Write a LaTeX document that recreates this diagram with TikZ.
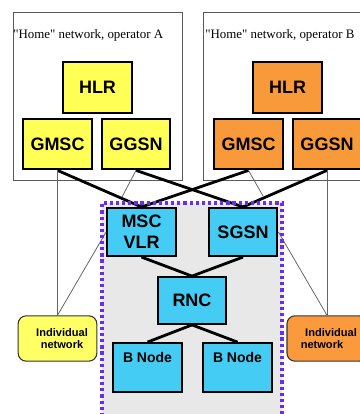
\documentclass[tikz,border=0pt]{standalone}
\usepackage{fontspec}
\setmainfont{Liberation Serif}[Ligatures=TeXOff]
\newfontfamily\arialfont{Liberation Sans}
\definecolor{nyellow}{HTML}{FFFF55}
\definecolor{norange}{HTML}{F99A3A}
\definecolor{nblue}{HTML}{44CCF4}
\definecolor{iyellow}{HTML}{FFFF66}
\definecolor{iorange}{HTML}{FA9A3C}
\definecolor{coregray}{HTML}{E8E8E8}
\definecolor{dotpurple}{HTML}{6A2CF0}
\begin{document}
\begin{tikzpicture}[x=0.75pt,y=-0.75pt,
  netbox/.style={draw=black!65,line width=0.6pt},
  elem/.style={draw=black,line width=1.6pt,minimum width=51.5pt,minimum height=38pt,inner sep=0pt,
    font=\arialfont\bfseries\fontsize{13.5}{15}\selectfont},
  yel/.style={elem,fill=nyellow},
  ora/.style={elem,fill=norange},
  blu/.style={elem,fill=nblue},
  bnode/.style={blu,minimum height=36.5pt,font=\arialfont\bfseries\fontsize{10.5}{12}\selectfont},
  indiv/.style={draw=black!80,line width=0.8pt,rounded corners=6pt,minimum width=59pt,minimum height=34pt,
    inner sep=0pt},
  indtext/.style={inner sep=0pt,align=center,font=\arialfont\bfseries\fontsize{8.3}{9}\selectfont},
  btext/.style={inner sep=0pt,font=\arialfont\bfseries\fontsize{10.5}{12}\selectfont},
  thickl/.style={line width=2.1pt,black},
  thinl/.style={line width=0.6pt,black!60},
  title/.style={anchor=west,inner sep=0pt,font=\fontsize{9.7}{11}\selectfont}]
\useasboundingbox (0,0) rectangle (360,414);
% home networks
\draw[netbox] (13,12) rectangle (182,180);
\draw[netbox] (203,12) rectangle (372,180);
\node[title] (ta) at (13,35) {"Home" network, operator A};
\node[title] (tb) at (205,35) {"Home" network, operator B};
% core network area
\fill[coregray] (102,203) rectangle (282,416);
% nodes
\node[yel] (hlra) at (97.5,87.5) {HLR};
\node[yel] (gmsca) at (57.5,144) {GMSC};
\node[yel] (ggsna) at (136,144) {GGSN};
\node[ora] (hlrb) at (287.5,87.5) {HLR};
\node[ora] (gmscb) at (248.5,144) {GMSC};
\node[ora] (ggsnb) at (327,144) {GGSN};
\node[blu,minimum height=36pt,align=center,font=\arialfont\bfseries\fontsize{13.5}{16}\selectfont] (msc) at (141.5,232) {MSC\\VLR};
\node[blu,minimum height=36pt] (sgsn) at (243,232) {SGSN};
\node[blu,minimum height=35pt] (rnc) at (192,300.5) {RNC};
\node[bnode] (bn1) at (147.5,367.5) {};
\node[bnode] (bn2) at (237.5,367.5) {};
\node[btext] (bn1t) at (147.5,357) {B Node};
\node[btext] (bn2t) at (237.5,357) {B Node};
\node[indiv,fill=iyellow] (inda) at (57.5,338.5) {};
\node[indiv,fill=iorange,minimum width=60pt] (indb) at (327,338.5) {};
\node[indtext] (inda1) at (62,333) {Individual};
\node[indtext] (inda2) at (62,344.5) {network};
\node[indtext] (indb1) at (331,333) {Individual};
\node[indtext] (indb2) at (322,344.5) {network};
% free ends
\coordinate (fa) at (122,197);
\coordinate (fb) at (263,196);
% thick links
\draw[thickl] (gmsca.south) -- (msc.north);
\draw[thickl] (ggsna.south) -- (sgsn.north);
\draw[thickl] (gmscb.south) -- (msc.north);
\draw[thickl] (ggsnb.south) -- (sgsn.north);
\draw[thickl] (msc.south) -- (rnc.north);
\draw[thickl] (sgsn.south) -- (rnc.north);
\draw[thickl] (rnc.south) -- (bn1.north);
\draw[thickl] (rnc.south) -- (bn2.north);
% thin links
\draw[thinl] (gmsca.south) -- (inda.north);
\draw[thinl] (inda.north) -- (msc.west);
\draw[thinl] (ggsna.south) -- (fa);
\draw[thinl] (gmscb.south) -- (fb);
\draw[thinl] (ggsnb.south) -- (indb.north);
\draw[thinl] (indb.north) -- (sgsn.east);
% dotted border
\draw[dotpurple,line width=2.6pt,dash pattern=on 2.4pt off 2.2pt] (102,416) -- (102,203) -- (282,203) -- (282,416);
\end{tikzpicture}
\end{document}
